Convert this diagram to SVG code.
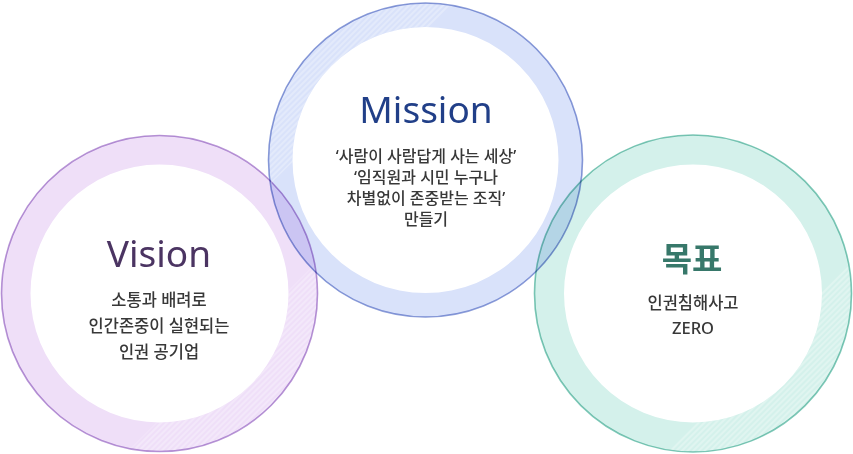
<svg xmlns="http://www.w3.org/2000/svg" width="853" height="454" viewBox="0 0 853 454">
<style>
.ring{fill-rule:evenodd;mix-blend-mode:multiply;stroke:none}
.edge{fill:none;stroke-width:1.6;mix-blend-mode:multiply}
.title{font-family:"Noto Sans","Noto Sans CJK KR",sans-serif;text-anchor:middle}
.body{font-family:"Noto Sans","Noto Sans CJK KR",sans-serif;text-anchor:middle;fill:#383838;font-size:16.5px;font-weight:500}
.mb{font-size:16px}
</style>
<defs>
<pattern id="hatch" width="4" height="4" patternUnits="userSpaceOnUse" patternTransform="rotate(45)">
<line x1="1" y1="0" x2="1" y2="4" stroke="#fff" stroke-width="1" stroke-opacity="0.55"/>
</pattern>
<clipPath id="cv"><polygon points="105,474 338,241 345,475"/></clipPath>
<clipPath id="cm"><polygon points="472,-14 252,202 245,-14"/></clipPath>
<clipPath id="cg"><polygon points="872,239 648,472 875,472"/></clipPath>
</defs>
<g id="vision">
<path class="ring" fill="#efdff8" d="M1.5,293.5 a158,158 0 1,0 316,0 a158,158 0 1,0 -316,0 Z M30.5,293.5 a129,129 0 1,0 258,0 a129,129 0 1,0 -258,0 Z"/>
<path fill="url(#hatch)" fill-rule="evenodd" clip-path="url(#cv)" d="M1.5,293.5 a158,158 0 1,0 316,0 a158,158 0 1,0 -316,0 Z M30.5,293.5 a129,129 0 1,0 258,0 a129,129 0 1,0 -258,0 Z"/>
<circle class="edge" stroke="#b896d6" cx="159.5" cy="293.5" r="158"/>
<text class="title" x="159" y="267" font-size="37" fill="#4b3462">Vision</text>
<text class="body" x="159" y="306">소통과 배려로</text>
<text class="body" x="159" y="332">인간존중이 실현되는</text>
<text class="body" x="159" y="358">인권 공기업</text>
</g>
<g id="mission">
<path class="ring" fill="#d9e2fa" d="M268.5,160 a157,157 0 1,0 314,0 a157,157 0 1,0 -314,0 Z M292.5,160 a133,133 0 1,0 266,0 a133,133 0 1,0 -266,0 Z"/>
<path fill="url(#hatch)" fill-rule="evenodd" clip-path="url(#cm)" d="M268.5,160 a157,157 0 1,0 314,0 a157,157 0 1,0 -314,0 Z M292.5,160 a133,133 0 1,0 266,0 a133,133 0 1,0 -266,0 Z"/>
<circle class="edge" stroke="#8c9dd8" cx="425.5" cy="160" r="157"/>
<text class="title" x="426" y="123" font-size="37" fill="#213f88">Mission</text>
<text class="body mb" x="426" y="162">‘사람이 사람답게 사는 세상’</text>
<text class="body mb" x="426" y="183">‘임직원과 시민 누구나</text>
<text class="body mb" x="426" y="204">차별없이 존중받는 조직’</text>
<text class="body mb" x="426" y="225">만들기</text>
</g>
<g id="goal">
<path class="ring" fill="#d4f1eb" d="M534.5,293.5 a158.5,158.5 0 1,0 317,0 a158.5,158.5 0 1,0 -317,0 Z M564,293.5 a129,129 0 1,0 258,0 a129,129 0 1,0 -258,0 Z"/>
<path fill="url(#hatch)" fill-rule="evenodd" clip-path="url(#cg)" d="M534.5,293.5 a158.5,158.5 0 1,0 317,0 a158.5,158.5 0 1,0 -317,0 Z M564,293.5 a129,129 0 1,0 258,0 a129,129 0 1,0 -258,0 Z"/>
<circle class="edge" stroke="#80c9b9" cx="693" cy="293.5" r="158.5"/>
<text class="title" x="692" y="271" font-size="33" fill="#37786a" font-weight="bold">목표</text>
<text class="body" x="693" y="309">인권침해사고</text>
<text class="body" x="693" y="334">ZERO</text>
</g>
<g id="connectors"/>
</svg>
